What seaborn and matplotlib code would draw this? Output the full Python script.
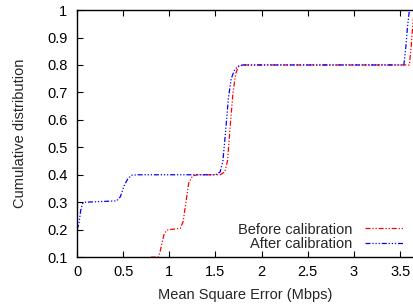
import pandas as pd
import matplotlib
matplotlib.use("Agg")
import matplotlib.pyplot as plt
import seaborn as sns

# CDF points (MSE in Mbps, cumulative fraction)
before_x = [0.80, 0.88, 0.90, 0.92, 0.94, 0.97, 1.00, 1.12, 1.15, 1.18, 1.21, 1.25, 1.30,
            1.55, 1.60, 1.63, 1.66, 1.69, 1.72, 1.75, 1.80, 3.60, 3.62, 3.64, 3.66]
before_y = [0.10, 0.10, 0.12, 0.15, 0.18, 0.198, 0.20, 0.205, 0.23, 0.30, 0.37, 0.395, 0.40,
            0.40, 0.41, 0.45, 0.58, 0.70, 0.77, 0.795, 0.80, 0.80, 0.87, 0.96, 1.00]

after_x = [0.00, 0.02, 0.04, 0.06, 0.09, 0.43, 0.47, 0.51, 0.55, 0.59, 0.65,
           1.50, 1.55, 1.58, 1.61, 1.64, 1.67, 1.71, 1.76, 1.80, 3.54, 3.56, 3.58, 3.60]
after_y = [0.20, 0.22, 0.27, 0.295, 0.30, 0.305, 0.32, 0.36, 0.385, 0.398, 0.40,
           0.40, 0.41, 0.45, 0.56, 0.68, 0.75, 0.785, 0.798, 0.80, 0.80, 0.86, 0.94, 1.00]

df = pd.concat([
    pd.DataFrame({"mse": before_x, "cdf": before_y, "series": "Before calibration"}),
    pd.DataFrame({"mse": after_x, "cdf": after_y, "series": "After calibration"}),
])

sns.set_style("ticks")
plt.rcParams["font.family"] = ["Liberation Sans", "DejaVu Sans"]
plt.rcParams["font.size"] = 10.5

fig = plt.figure(figsize=(4.14, 3.05), dpi=100)
ax = fig.add_axes([0.186, 0.157, 0.814, 0.81])

sns.lineplot(
    data=df, x="mse", y="cdf", hue="series", style="series",
    palette={"Before calibration": "#ff0000", "After calibration": "#0000ff"},
    dashes={"Before calibration": (4, 1.5, 1, 1.5, 1, 1.5),
            "After calibration": (4, 1.5, 1, 1.5, 1, 1.5, 1, 1.5)},
    sort=False, estimator=None, linewidth=0.9, ax=ax,
)

ax.set_xlim(0, 3.65)
ax.set_ylim(0.1, 1.0)
ax.set_xticks([0, 0.5, 1, 1.5, 2, 2.5, 3, 3.5])
ax.set_xticklabels(["0", "0.5", "1", "1.5", "2", "2.5", "3", "3.5"])
ax.set_yticks([0.1, 0.2, 0.3, 0.4, 0.5, 0.6, 0.7, 0.8, 0.9, 1.0])
ax.set_yticklabels(["0.1", "0.2", "0.3", "0.4", "0.5", "0.6", "0.7", "0.8", "0.9", "1"])
ax.tick_params(direction="in", top=True, right=False, length=4, width=0.8, colors="black")
ax.tick_params(axis="x", pad=6)
ax.tick_params(axis="y", pad=7)
ax.spines["right"].set_visible(False)
for s in ["left", "bottom", "top"]:
    ax.spines[s].set_linewidth(1.0)
    ax.spines[s].set_color("black")

ax.set_xlabel("Mean Square Error (Mbps)", labelpad=6)
ax.set_ylabel("Cumulative distribution", labelpad=14)
ax.legend(title=None, loc="lower right", frameon=False, markerfirst=False,
          handlelength=2.6, handletextpad=0.9, borderaxespad=0.0, labelspacing=0.05,
          bbox_to_anchor=(0.985, 0.0))

fig.savefig("out.png", dpi=100)
plt.close(fig)
